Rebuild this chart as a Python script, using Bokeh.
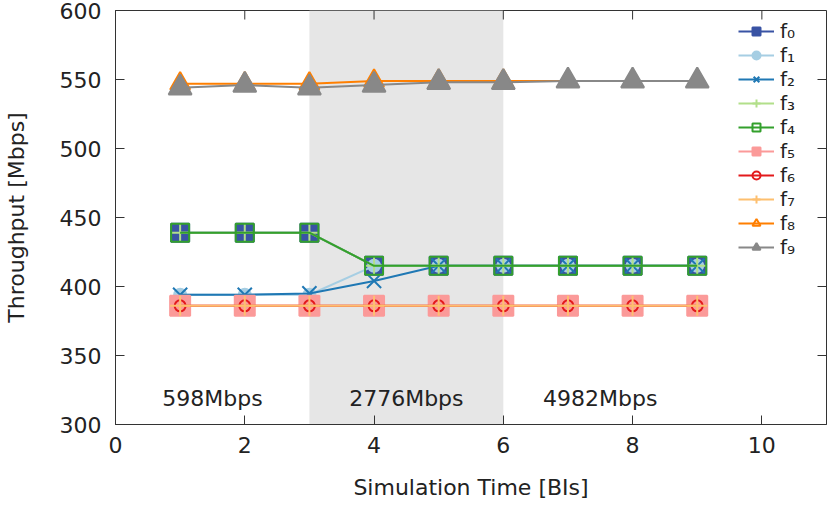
import math
from bokeh.plotting import figure
from bokeh.models import (Range1d, FixedTicker, BoxAnnotation, Legend,
                          LegendItem, ColumnDataSource)
from bokeh.core.properties import value
from bokeh.embed import file_html
from bokeh.resources import INLINE

# ---- data ----
bi = [1, 2, 3, 4, 5, 6, 7, 8, 9]
f0 = [439, 439, 439, 415, 415, 415, 415, 415, 415]
f1 = [394, 394, 394, 415, 415, 415, 415, 415, 415]
f2 = [394, 394, 395, 404, 415, 415, 415, 415, 415]
f3 = [439, 439, 439, 415, 415, 415, 415, 415, 415]
f4 = [439, 439, 439, 415, 415, 415, 415, 415, 415]
f5 = [386, 386, 386, 386, 386, 386, 386, 386, 386]
f6 = [386, 386, 386, 386, 386, 386, 386, 386, 386]
f7 = [386, 386, 386, 386, 386, 386, 386, 386, 386]
f8 = [547, 547, 547, 549, 549, 549, 549, 549, 549]
f9 = [544, 546, 544, 546, 548, 548, 549, 549, 549]
series_names = ["f₀", "f₁", "f₂", "f₃", "f₄", "f₅", "f₆", "f₇", "f₈", "f₉"]
series_values = [f0, f1, f2, f3, f4, f5, f6, f7, f8, f9]

phase_start = 3
phase_end = 6
region_labels = ["598Mbps", "2776Mbps", "4982Mbps"]
region_x = [1.5, 4.5, 7.5]
region_y = [319, 319, 319]

x_min, x_max = 0, 11
y_min, y_max = 300, 600
x_ticks = [0, 2, 4, 6, 8, 10]
y_ticks = [300, 350, 400, 450, 500, 550, 600]

# ---- styles ----
styles = [
    dict(color="#3953a4", marker="square", size=18, fill=True),
    dict(color="#a6cee3", marker="circle", size=12, fill=True),
    dict(color="#1f78b4", marker="x", size=20, fill=False),
    dict(color="#b2df8a", marker="cross", size=18, fill=False),
    dict(color="#33a02c", marker="square", size=18, fill=False),
    dict(color="#fb9a99", marker="square", size=20, fill=True),
    dict(color="#e31a1c", marker="circle", size=11, fill=False),
    dict(color="#fdbf6f", marker="cross", size=20, fill=False),
    dict(color="#ff7f00", marker="triangle", size=20, fill=False),
    dict(color="#888888", marker="triangle", size=23, fill=True),
]

FONT = "DejaVu Sans"
AXC = "#333333"
TXT = "#222222"

p = figure(width=828, height=504, output_backend="svg", toolbar_location=None,
           x_range=Range1d(x_min, x_max), y_range=Range1d(y_min, y_max),
           min_border_left=108, min_border_right=2, min_border_top=10,
           min_border_bottom=80)
p.grid.visible = False
p.outline_line_color = AXC
p.outline_line_width = 1
p.background_fill_color = "white"

p.add_layout(BoxAnnotation(left=phase_start, right=phase_end, fill_color="#e6e6e6",
                           fill_alpha=1.0, line_color=None, level="underlay"))

for ax, ticks in ((p.xaxis[0], x_ticks), (p.yaxis[0], y_ticks)):
    ax.ticker = FixedTicker(ticks=ticks)
    ax.major_tick_in = 9
    ax.major_tick_out = 0
    ax.minor_tick_in = 0
    ax.minor_tick_out = 0
    ax.axis_line_color = AXC
    ax.major_tick_line_color = AXC
    ax.major_label_text_font = FONT
    ax.major_label_text_font_size = "22px"
    ax.major_label_text_color = TXT
    ax.axis_label_text_font = FONT
    ax.axis_label_text_font_size = "22px"
    ax.axis_label_text_font_style = "normal"
    ax.axis_label_text_color = TXT

p.xaxis[0].axis_label = "Simulation Time [BIs]"
p.yaxis[0].axis_label = "Throughput [Mbps]"
p.xaxis[0].major_label_standoff = 12
p.xaxis[0].axis_label_standoff = 19
p.yaxis[0].major_label_standoff = 14
p.yaxis[0].axis_label_standoff = 28

# mirrored ticks on the top and right edges (gnuplot style)
p.ray(x=x_ticks, y=[y_max] * len(x_ticks), length=9, length_units="screen",
      angle=-math.pi / 2, line_color=AXC, line_width=1)
p.ray(x=[x_max] * len(y_ticks), y=y_ticks, length=9, length_units="screen",
      angle=math.pi, line_color=AXC, line_width=1)

p.text(x=region_x, y=region_y, text=region_labels, text_font=value(FONT),
       text_font_size="22px", text_align="center", text_baseline="middle",
       text_color=TXT)

items = []
for name, vals, st in zip(series_names, series_values, styles):
    src = ColumnDataSource(dict(x=bi, y=vals))
    lr = p.line("x", "y", source=src, line_color=st["color"], line_width=2)
    sr = p.scatter("x", "y", source=src, marker=st["marker"], size=st["size"],
                   line_color=st["color"], line_width=2,
                   fill_color=st["color"] if st["fill"] else None)
    items.append(LegendItem(label=name, renderers=[lr, sr]))

legend = Legend(items=items, location=(623, 165), margin=0, padding=0,
                spacing=0, glyph_width=36, glyph_height=20, label_height=20,
                label_standoff=6, label_text_font=FONT, label_text_font_size="20px",
                label_text_color=TXT, background_fill_alpha=0,
                border_line_color=None)
p.add_layout(legend)

open("out.html", "w").write(file_html(p, INLINE))
